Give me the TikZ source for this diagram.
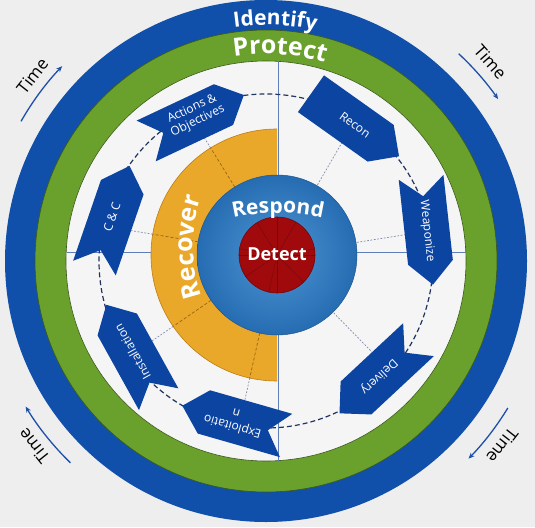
\documentclass[tikz,border=0pt]{standalone}
\usepackage{fontspec}
\setmainfont{Open Sans}
\usetikzlibrary{decorations.text,arrows.meta}
\definecolor{bgc}{RGB}{238,238,238}
\definecolor{innerbg}{RGB}{245,245,245}
\definecolor{ringblue}{RGB}{16,80,170}
\definecolor{ringgreen}{RGB}{106,160,44}
\definecolor{orangec}{RGB}{234,168,42}
\definecolor{orangeedge}{RGB}{190,125,20}
\definecolor{orgline}{RGB}{150,100,20}
\definecolor{respin}{RGB}{78,150,212}
\definecolor{respout}{RGB}{38,108,178}
\definecolor{detred}{RGB}{160,10,12}
\definecolor{chevblue}{RGB}{12,68,162}
\definecolor{dashc}{RGB}{32,52,95}
\definecolor{dotc}{RGB}{128,138,170}
\definecolor{axisc}{RGB}{95,125,185}
\definecolor{timeblue}{RGB}{28,80,170}
\begin{document}
\begin{tikzpicture}[x=1pt,y=-1pt,
  chevtext/.style={text=white,font=\fontsize{12}{13.5}\selectfont,align=center,inner sep=0pt},
  timetext/.style={text=black,font=\fontsize{17}{17}\selectfont,inner sep=0pt},
  timearrow/.style={timeblue,line width=1.3pt,-{Stealth[length=6pt,width=5pt]}},
  dotline/.style={dotc,line width=0.7pt,dash pattern=on 1.8pt off 1.6pt},
  orgdash/.style={orgline,line width=0.7pt,dash pattern=on 3pt off 2pt},
  axisline/.style={axisc,line width=0.8pt},
  chev/.pic={\fill[chevblue] (-54,22.5) -- (31.5,22.5) -- (54,0) -- (31.5,-22.5) -- (-54,-22.5) -- (-35,0) -- cycle;},
  chevflat/.pic={\fill[chevblue] (-54,22.5) -- (31.5,22.5) -- (54,0) -- (31.5,-22.5) -- (-54,-22.5) -- cycle;}
]
\useasboundingbox (0,0) rectangle (535,527);
\fill[bgc] (0,0) rectangle (535,527);

% outer rings
\begin{scope}[shift={(266,261)},y=1pt]
  \fill[ringblue] (0,0) circle (261pt);
  \fill[ringgreen] (0,0) circle (231pt);
  \draw[ringgreen!55!black,line width=0.6pt] (0,0) circle (231pt);
  \fill[innerbg] (0,0) circle (200pt);
  \draw[ringgreen!55!black,line width=0.6pt] (0,0) circle (200pt);
  \path[decorate,decoration={text along path,text align=center,text color=white,
     text={|\fontsize{21}{21}\selectfont\bfseries|Identify}}]
     (117.8:236) arc[start angle=117.8,end angle=57.8,radius=236pt];
  \path[decorate,decoration={text along path,text align=center,text color=white,
     text={|\fontsize{25}{25}\selectfont\bfseries|Protect}}]
     (116.2:207) arc[start angle=116.2,end angle=56.2,radius=207pt];
\end{scope}

% axis lines
\draw[axisline] (278,61.5) -- (278,460.5);
\draw[axisline] (66.5,252) -- (465.5,252);

% dashed cycle circle
\begin{scope}[shift={(266,261)},y=1pt]
  \draw[dashc,line width=1.2pt,dash pattern=on 5pt off 3pt] (0,0) circle (167pt);
\end{scope}

% inner target
\begin{scope}[shift={(277,255)},y=1pt]
  \foreach \a in {60,9,-45.6} \draw[dotline] (\a:81) -- (\a:152);
  \foreach \a in {121.8,170.5,-145.5,-102.5} \draw[dotline] (\a:126) -- (\a:156);
  \fill[orangec] (90:126) arc[start angle=90,end angle=270,radius=126pt] -- cycle;
  \draw[orangeedge,line width=0.6pt] (90:126) arc[start angle=90,end angle=270,radius=126pt];
  \foreach \a in {121.8,170.5,-145.5,-102.5} \draw[orgdash] (\a:80) -- (\a:126);
  \shade[inner color=respin,outer color=respout] (0,0) circle (80pt);
  \draw[respout!80!black,line width=0.5pt] (0,0) circle (80pt);
  \fill[detred] (0,0) circle (38pt);
  \foreach \a in {60,9,-45.6,121.8,170.5,-145.5,-102.5,90,-90,0,180}
    \draw[detred!75!black,line width=0.4pt] (0,0) -- (\a:38);
  \draw[detred!70!black,line width=0.6pt] (0,0) circle (38pt);
\end{scope}

% curved inner labels
\begin{scope}[shift={(278,413)},y=1pt]
  \path[decorate,decoration={text along path,text align=center,text color=white,
     text={|\fontsize{21}{21}\selectfont\bfseries|Respond}}]
     (105:200) arc[start angle=105,end angle=75,radius=200pt];
\end{scope}
\begin{scope}[shift={(343,247)},y=1pt]
  \path[decorate,decoration={text along path,text align=center,text color=white,
     text={|\fontsize{25}{25}\selectfont\bfseries|Recover}}]
     (204:150) arc[start angle=204,end angle=156,radius=150pt];
\end{scope}
\node[text=white,font=\fontsize{18}{18}\selectfont\bfseries,inner sep=0pt] (detect) at (277,254) {Detect};

% kill chain chevrons
\pic[rotate=-35.4] at (355,125) {chevflat};
\node[chevtext,rotate=-35.4] (recon) at (355,125) {Recon};
\pic[rotate=-83.7] at (427,231) {chev};
\node[chevtext,rotate=-83.7] (weap) at (427,231) {Weaponize};
\pic[rotate=-137] at (379,376.5) {chev};
\node[chevtext,rotate=-137] (deliv) at (379,376.5) {Delivery};
\pic[rotate=164] at (234.2,420.6) {chev};
\node[chevtext,rotate=164] (exploit) at (234.2,420.6) {Exploitatio\\ n};
\pic[rotate=119] at (132.5,352) {chev};
\node[chevtext,rotate=119] (install) at (132.5,352) {Installation};
\pic[rotate=71] at (112,217) {chev};
\node[chevtext,rotate=71] (cc) at (112,217) {C \& C};
\pic[rotate=25.2] at (195,118) {chev};
\node[chevtext,rotate=25.2] (actions) at (195,115) {Actions \&\\ Objectives};

% time arrows and labels
\begin{scope}[shift={(266,261)},y=1pt]
  \draw[timearrow] (150.3:282) arc[start angle=150.3,end angle=136.3,radius=282pt];
  \draw[timearrow] (47.1:283) arc[start angle=47.1,end angle=34.9,radius=283pt];
  \draw[timearrow] (-31.3:283) arc[start angle=-31.3,end angle=-44.3,radius=283pt];
  \draw[timearrow] (-134.1:281) arc[start angle=-134.1,end angle=-148.8,radius=281pt];
  \node[timetext,rotate=51.6] (time1) at (141.6:298) {Time};
  \node[timetext,rotate=-48.4] (time2) at (41.6:300) {Time};
  \node[timetext,rotate=-128] (time3) at (-38:300) {Time};
  \node[timetext,rotate=128.6] (time4) at (-141.4:297) {Time};
\end{scope}
\end{tikzpicture}
\end{document}
